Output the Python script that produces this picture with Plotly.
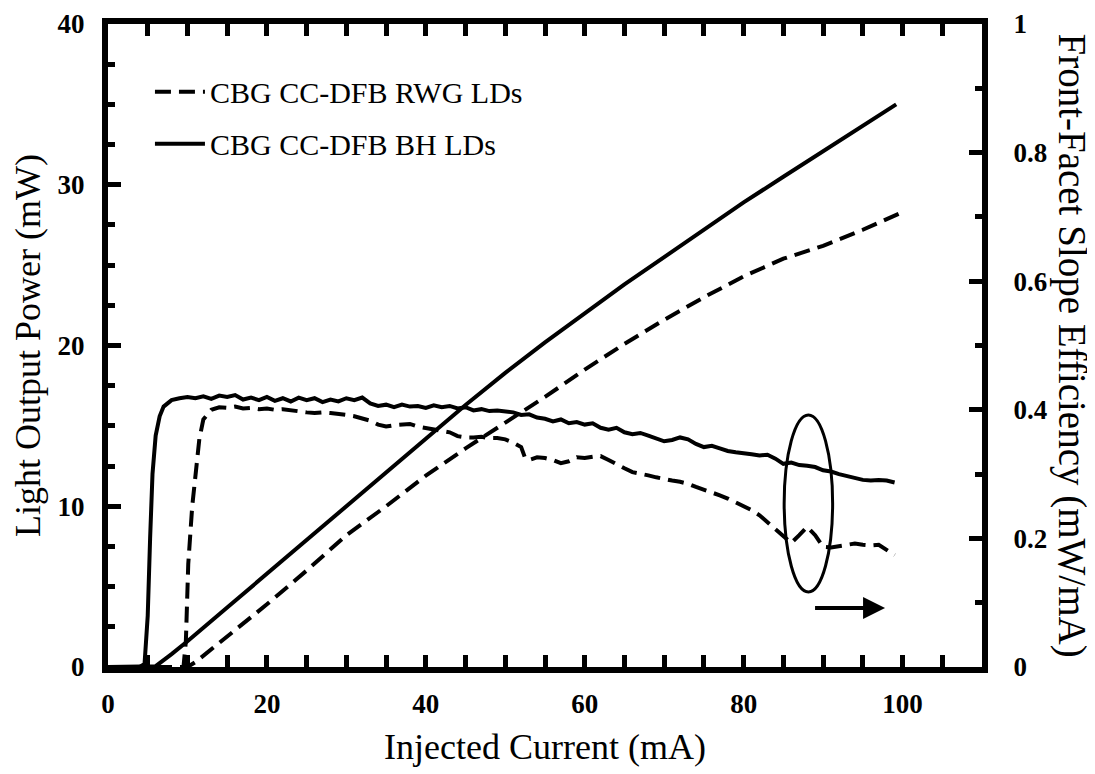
import plotly.graph_objects as go

# ---------------- data ----------------
# Light output power (mW) vs injected current (mA)
li_bh_current = [0, 2, 4, 6.0, 8, 10, 15, 20, 25, 30, 35, 40, 45, 50, 55, 60, 65, 70, 75, 80, 85, 90, 95, 99.2]
li_bh_power = [0, 0, 0, 0.05, 0.8, 1.6, 3.7, 5.8, 7.9, 10.0, 12.1, 14.2, 16.3, 18.3, 20.2, 22.0, 23.8, 25.5, 27.2, 28.9, 30.5, 32.1, 33.7, 35.0]

li_rwg_current = [0, 2, 4, 6, 8, 10, 11, 15, 20, 25, 30, 35, 40, 45, 50, 55, 60, 65, 70, 75, 80, 85, 90, 95, 100]
li_rwg_power = [0, 0, 0, 0, 0, 0, 0.3, 1.9, 3.9, 6.0, 8.2, 10.0, 11.9, 13.6, 15.2, 16.8, 18.5, 20.1, 21.6, 23.0, 24.3, 25.4, 26.2, 27.2, 28.3]

# Front-facet slope efficiency (mW/mA)
se_bh_current = [0, 1, 2, 3, 4, 4.6, 5.0, 5.3, 5.6, 6.0, 6.5, 7, 8, 9] + list(range(10, 100))
se_bh_value = [0, 0, 0, 0, 0, 0.005, 0.08, 0.2, 0.3, 0.36, 0.39, 0.405, 0.415, 0.418,
               0.420, 0.418, 0.421, 0.417, 0.422, 0.420, 0.423, 0.416, 0.419, 0.415,
               0.420, 0.414, 0.418, 0.413, 0.419, 0.415, 0.418, 0.412, 0.416, 0.413,
               0.418, 0.415, 0.419, 0.410, 0.406, 0.408, 0.404, 0.408, 0.405, 0.406,
               0.403, 0.407, 0.404, 0.406, 0.402, 0.404, 0.399, 0.401, 0.398, 0.399,
               0.397, 0.396, 0.392, 0.393, 0.388, 0.386, 0.382, 0.385, 0.379, 0.381,
               0.377, 0.379, 0.372, 0.369, 0.372, 0.365, 0.362, 0.364, 0.360, 0.356,
               0.351, 0.353, 0.357, 0.354, 0.347, 0.342, 0.344, 0.340, 0.336, 0.334,
               0.333, 0.331, 0.329, 0.330, 0.324, 0.316, 0.318, 0.314, 0.313, 0.311,
               0.306, 0.304, 0.300, 0.297, 0.293, 0.291, 0.290, 0.291, 0.290, 0.287]

se_rwg_current = [0, 2, 4, 6, 8, 9, 9.5, 9.8, 10.1, 10.6, 11.0, 11.5, 12, 13, 14, 15, 16, 17, 18, 19,
                  20, 21, 22, 23, 24, 25, 26, 27, 28, 29, 30, 31, 32, 33, 34, 35, 36, 37, 38, 39,
                  40, 41, 42, 43, 44, 45, 46, 47, 48, 49, 50, 51, 52, 52.5, 53, 54, 55, 56, 57, 58, 59,
                  60, 61, 62, 63, 64, 65, 66, 67, 68, 69, 70, 71, 72, 73, 74, 75, 76, 77, 78, 79,
                  80, 81, 82, 83, 84, 85, 86, 87, 88, 89, 90, 91, 92, 93, 94, 95, 96, 97, 98, 99]
se_rwg_value = [0, 0, 0, 0, 0, 0, 0, 0.04, 0.16, 0.25, 0.30, 0.355, 0.385, 0.400, 0.404, 0.403, 0.405, 0.402, 0.403, 0.401,
                0.402, 0.400, 0.401, 0.399, 0.398, 0.396, 0.395, 0.396, 0.395, 0.394, 0.392, 0.390, 0.387, 0.383, 0.377, 0.374, 0.376, 0.377, 0.378, 0.374,
                0.372, 0.370, 0.367, 0.365, 0.359, 0.357, 0.357, 0.358, 0.356, 0.356, 0.354, 0.349, 0.342, 0.325, 0.322, 0.326, 0.325, 0.322, 0.317, 0.320, 0.326,
                0.325, 0.327, 0.328, 0.322, 0.315, 0.309, 0.303, 0.301, 0.298, 0.295, 0.292, 0.290, 0.288, 0.285, 0.280, 0.276, 0.271, 0.267, 0.262, 0.256,
                0.250, 0.244, 0.236, 0.225, 0.214, 0.203, 0.193, 0.205, 0.218, 0.205, 0.187, 0.186, 0.188, 0.189, 0.192, 0.190, 0.189, 0.190, 0.182, 0.174]

legend_labels = ["CBG CC-DFB RWG LDs", "CBG CC-DFB BH LDs"]
x_title = "Injected Current (mA)"
y_title = "Light Output Power (mW)"
y2_title = "Front-Facet Slope Efficiency (mW/mA)"

# ---------------- figure ----------------
FONT = "Liberation Serif, Times New Roman, serif"
DASH = "16px,8px"
LW = 4

fig = go.Figure()
fig.add_trace(go.Scatter(x=li_rwg_current, y=li_rwg_power, mode="lines", name=legend_labels[0],
                         line=dict(color="black", width=LW, dash=DASH), legendgroup="a", yaxis="y"))
fig.add_trace(go.Scatter(x=li_bh_current, y=li_bh_power, mode="lines", name=legend_labels[1],
                         line=dict(color="black", width=LW), legendgroup="b", yaxis="y"))
fig.add_trace(go.Scatter(x=se_rwg_current, y=se_rwg_value, mode="lines", showlegend=False,
                         line=dict(color="black", width=LW, dash=DASH), yaxis="y2"))
fig.add_trace(go.Scatter(x=se_bh_current, y=se_bh_value, mode="lines", showlegend=False,
                         line=dict(color="black", width=LW), yaxis="y2"))

tickfont = dict(family=FONT, size=27, color="black", weight="bold")
axis_common = dict(showgrid=False, zeroline=False, showline=True, linecolor="black", linewidth=6,
                   ticks="inside", tickcolor="black", tickwidth=5, tickfont=tickfont, automargin=False)

# the page body adds an 8px margin, so the figure is made 8px smaller than the window
fig.update_layout(
    width=1087, height=766,
    margin=dict(l=100, r=113, t=16, b=107),
    paper_bgcolor="white", plot_bgcolor="white",
    font=dict(family=FONT, color="black"),
    xaxis=dict(range=[0, 110], tickvals=[0, 20, 40, 60, 80, 100], ticklen=12,
               mirror="allticks", ticklabelstandoff=8,
               minor=dict(ticks="inside", dtick=5, ticklen=7, tickwidth=5, tickcolor="black"),
               title=dict(text=x_title, font=dict(family=FONT, size=36), standoff=17),
               **axis_common),
    yaxis=dict(range=[0, 40], tickvals=[0, 10, 20, 30, 40], ticklen=13, ticklabelstandoff=12,
               minor=dict(ticks="inside", dtick=2.5, ticklen=7, tickwidth=5, tickcolor="black"),
               title=dict(text=y_title, font=dict(family=FONT, size=36), standoff=10),
               **axis_common),
    yaxis2=dict(range=[0, 1], overlaying="y", side="right", tickvals=[0, 0.2, 0.4, 0.6, 0.8, 1],
                ticktext=["0", "0.2", "0.4", "0.6", "0.8", "1"], ticklen=13, ticklabelstandoff=20,
                minor=dict(ticks="inside", dtick=0.1, ticklen=7, tickwidth=5, tickcolor="black"),
                **axis_common),
    legend=dict(x=0.048, y=0.935, xanchor="left", yanchor="top", bgcolor="rgba(0,0,0,0)",
                font=dict(family=FONT, size=30, color="black"), tracegroupgap=10,
                traceorder="grouped", itemwidth=50),
    showlegend=True,
)

# right-hand axis title reads top-to-bottom
fig.add_annotation(text=y2_title, xref="paper", yref="paper", x=1, y=0.5, xanchor="center", yanchor="middle",
                   xshift=90, textangle=90, showarrow=False, font=dict(family=FONT, size=39, color="black"))

# ellipse marking the slope-efficiency curves
fig.add_shape(type="circle", xref="x", yref="y", x0=85.1, x1=91.2, y0=4.67, y1=15.68,
              line=dict(color="black", width=3))
# arrow pointing to the right-hand axis
fig.add_annotation(x=97.8, y=3.67, ax=88.8, ay=3.67, xref="x", yref="y", axref="x", ayref="y",
                   text="", showarrow=True, arrowhead=2, arrowsize=1.1, arrowwidth=4, arrowcolor="black")

fig.write_html("out.html")
